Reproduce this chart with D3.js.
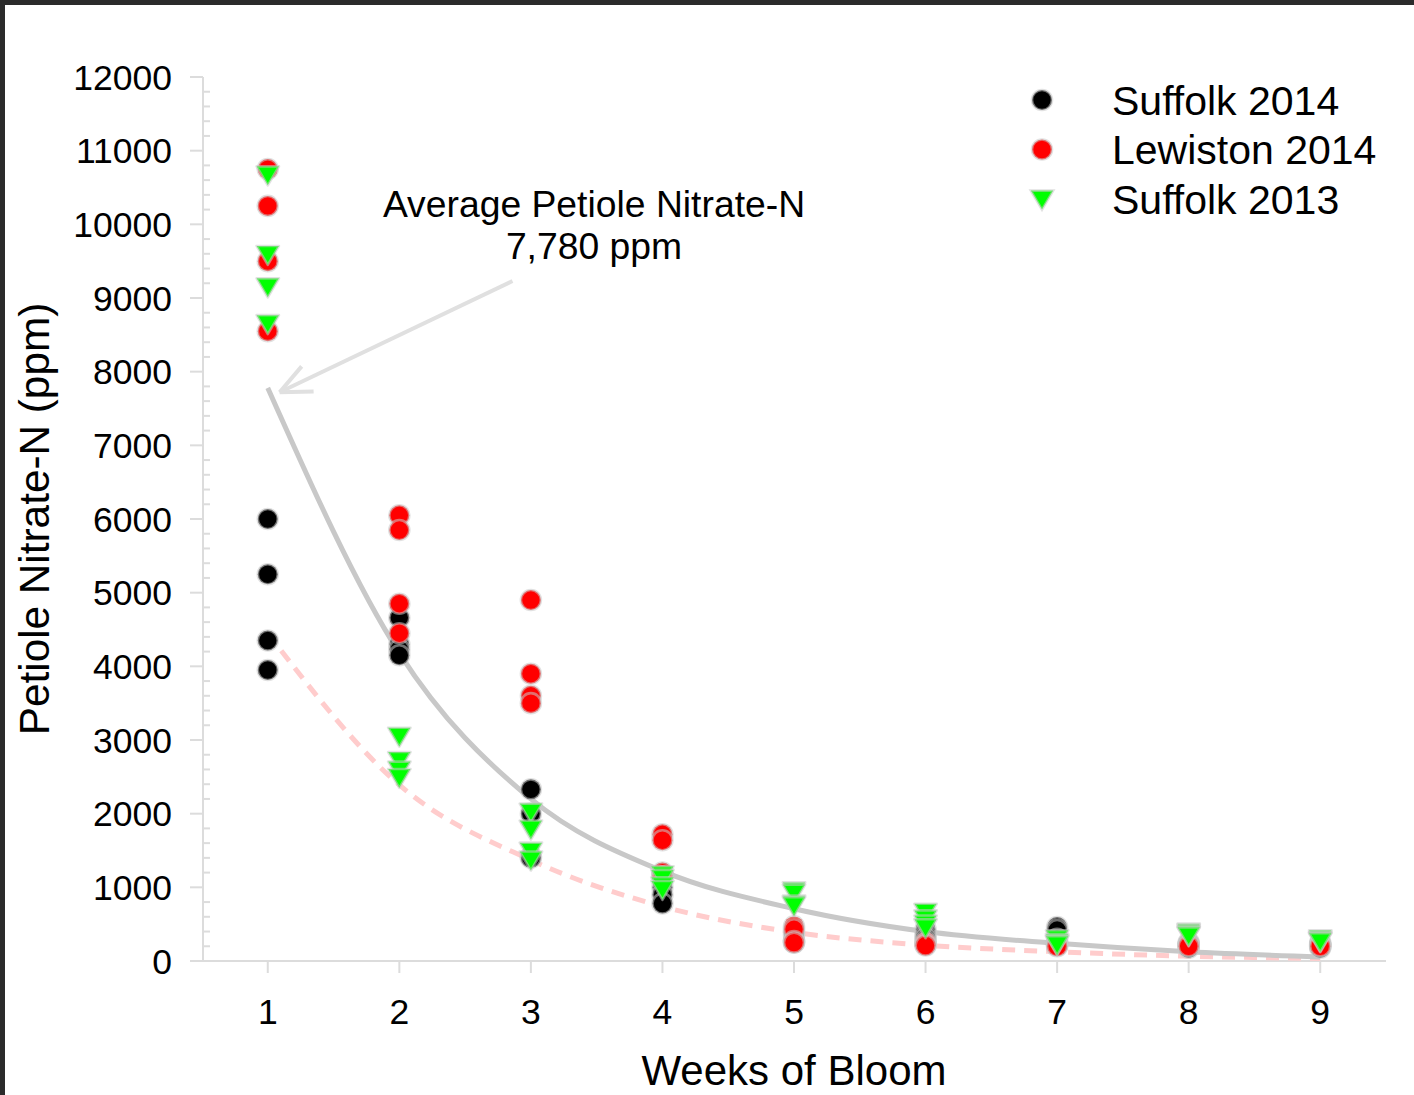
<!DOCTYPE html>
<html><head><meta charset="utf-8">
<script src="https://cdn.jsdelivr.net/npm/d3@7/dist/d3.min.js"></script>
<style>body{margin:0;background:#fff}svg{display:block}text{font-family:"Liberation Sans",Arial,sans-serif;fill:#000}</style>
</head><body>
<svg id="c" width="1414" height="1095"></svg>
<script>
const weeks = [1,2,3,4,5,6,7,8,9];
const yTicks = [0,1000,2000,3000,4000,5000,6000,7000,8000,9000,10000,11000,12000];
const seriesNames = ["Suffolk 2014","Lewiston 2014","Suffolk 2013"];
// four readings per week, week 1..9
const suffolk2014 = [
  [6000,5250,4350,3950],[4660,4300,4230,4150],[2330,2000,1420,1400],[1180,1000,900,780],
  [400,350,280,250],[430,380,330,300],[460,420,300,250],[250,230,200,180],[250,220,200,180]];
const lewiston2014 = [
  [10750,10250,9500,8550],[6050,5850,4850,4450],[4900,3900,3600,3500],[1720,1640,1200,1150],
  [470,430,270,250],[260,240,220,210],[240,220,210,200],[230,220,210,200],[230,220,210,200]];
const suffolk2013 = [
  [10700,9620,9180,8680],[3080,2750,2620,2520],[2050,1820,1520,1400],[1200,1150,1050,1000],
  [980,950,800,780],[690,600,530,480],[330,280,260,250],[420,400,380,370],[330,310,300,290]];
// trend lines at each week
const avgTrend = [7780,4180,2200,1220,710,400,240,125,55];
const lowTrend = [4450,2390,1370,740,390,215,125,65,35];
const annotation = ["Average Petiole Nitrate-N","7,780 ppm"];

const svg = d3.select("#c");
// frame
svg.append("rect").attr("x",0).attr("y",0).attr("width",1414).attr("height",5).attr("fill","#2b2b2b");
svg.append("rect").attr("x",0).attr("y",0).attr("width",5).attr("height",1095).attr("fill","#2b2b2b");

const x = d3.scaleLinear().domain([0.5,9.5]).range([202,1386]);
const y = d3.scaleLinear().domain([0,12000]).range([961,77]);
const axisCol = "#dcdcdc";

// y axis
const ya = svg.append("g");
ya.append("line").attr("x1",203).attr("x2",203).attr("y1",y(12000)).attr("y2",y(0)).attr("stroke",axisCol).attr("stroke-width",2);
const minor = d3.range(0,12001,200).filter(v=>v%1000!==0);
ya.selectAll(".mn").data(minor).join("line").attr("x1",203).attr("x2",210).attr("y1",d=>y(d)).attr("y2",d=>y(d)).attr("stroke",axisCol).attr("stroke-width",2);
ya.selectAll(".mj").data(yTicks).join("line").attr("x1",190).attr("x2",203).attr("y1",d=>y(d)).attr("y2",d=>y(d)).attr("stroke",axisCol).attr("stroke-width",2);
ya.selectAll("text").data(yTicks).join("text").attr("x",172).attr("y",d=>y(d)).attr("dy","0.36em").attr("text-anchor","end").attr("font-size",35.5).text(d=>d);

// x axis
const xa = svg.append("g");
xa.append("line").attr("x1",190).attr("x2",1386).attr("y1",961).attr("y2",961).attr("stroke",axisCol).attr("stroke-width",2);
xa.selectAll(".t").data(weeks).join("line").attr("x1",d=>x(d)).attr("x2",d=>x(d)).attr("y1",961).attr("y2",973).attr("stroke",axisCol).attr("stroke-width",2);
xa.selectAll("text").data(weeks).join("text").attr("x",d=>x(d)).attr("y",1024).attr("text-anchor","middle").attr("font-size",35.5).text(d=>d);

svg.append("text").attr("x",794).attr("y",1085).attr("text-anchor","middle").attr("font-size",42).text("Weeks of Bloom");
svg.append("text").attr("transform","translate(49,519) rotate(-90)").attr("text-anchor","middle").attr("font-size",42.3).text("Petiole Nitrate-N (ppm)");

// trend lines
const line = d3.line().x((d,i)=>x(weeks[i])).y(d=>y(d)).curve(d3.curveMonotoneX);
svg.append("path").attr("d",line(lowTrend)).attr("fill","none").attr("stroke","#ffcccc").attr("stroke-width",5).attr("stroke-dasharray","13,9");
svg.append("path").attr("d",line(avgTrend)).attr("fill","none").attr("stroke","#c8c8c8").attr("stroke-width",5);

// points
const flat = arr => arr.flatMap((vals,i)=>vals.map(v=>({w:weeks[i],v})));
const mStroke = "rgba(200,200,200,0.55)";
function circles(arr,col){
  svg.append("g").selectAll("circle").data(flat(arr)).join("circle")
    .attr("cx",d=>x(d.w)).attr("cy",d=>y(d.v)).attr("r",10)
    .attr("fill",col).attr("stroke",mStroke).attr("stroke-width",2.6);
}
circles(suffolk2014,"#000");
circles(lewiston2014,"#ff0000");
const tri = "M-11.2,-6.4 L11.2,-6.4 L0,12.6 Z";
svg.append("g").selectAll("path").data(flat(suffolk2013)).join("path")
  .attr("d",tri).attr("transform",d=>`translate(${x(d.w)},${y(d.v)})`)
  .attr("fill","#00ff00").attr("stroke",mStroke).attr("stroke-width",2.6).attr("stroke-linejoin","round");

// annotation
svg.append("text").attr("x",594).attr("y",217).attr("text-anchor","middle").attr("font-size",37.3).text(annotation[0]);
svg.append("text").attr("x",594).attr("y",259).attr("text-anchor","middle").attr("font-size",37.3).text(annotation[1]);
const ax0 = x(2.86), ay0 = y(9230), ax1 = x(1.09), ay1 = y(7720);
const ag = svg.append("g").attr("stroke","#e0e0e0").attr("stroke-width",4).attr("fill","none");
ag.append("line").attr("x1",ax0).attr("y1",ay0).attr("x2",ax1).attr("y2",ay1);
const ang = Math.atan2(ay0-ay1, ax0-ax1);
[0.42,-0.42].forEach(da=>{
  ag.append("line").attr("x1",ax1).attr("y1",ay1)
    .attr("x2",ax1+34*Math.cos(ang+da)).attr("y2",ay1+34*Math.sin(ang+da));
});

// legend
const colors = ["#000","#ff0000","#00ff00"];
const lg = svg.append("g");
seriesNames.forEach((n,i)=>{
  const ly = 100 + i*49.5;
  if(i<2) lg.append("circle").attr("cx",1042).attr("cy",ly).attr("r",10).attr("fill",colors[i]).attr("stroke",mStroke).attr("stroke-width",2.6);
  else lg.append("path").attr("d",tri).attr("transform",`translate(1042,${ly-2})`).attr("fill",colors[i]).attr("stroke",mStroke).attr("stroke-width",2.6);
  lg.append("text").attr("x",1112).attr("y",ly).attr("dy","0.36em").attr("font-size",41).text(n);
});
</script>
</body></html>
